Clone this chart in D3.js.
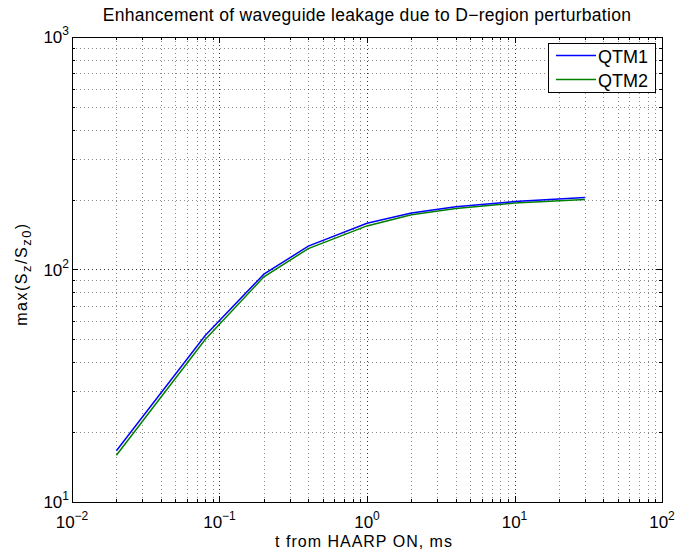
<!DOCTYPE html>
<html>
<head>
<meta charset="utf-8">
<script src="https://cdn.jsdelivr.net/npm/d3@7"></script>
<style>
  body { margin: 0; background: #fff; }
  svg { display: block; font-family: "Liberation Sans", Arial, sans-serif; }
</style>
</head>
<body>
<svg id="chart"></svg>
<script>
const tMs = [0.02, 0.08, 0.2, 0.4, 1, 2, 4, 10, 30];
const qtm1 = [16.6, 52, 95.5, 126, 158, 175, 186, 196, 204];
const qtm2 = [15.9, 50, 93, 123, 154, 172, 183, 193, 200];
const seriesNames = ["QTM1", "QTM2"];
const seriesColors = ["#0000ff", "#008000"];
const xDecades = [-2, -1, 0, 1, 2];
const yDecades = [1, 2, 3];

const width = 677;
const height = 551;
const m = { left: 72, right: 15, top: 37, bottom: 49 };

const svg = d3.select("#chart")
  .attr("width", width)
  .attr("height", height);

const x = d3.scaleLog().domain([0.01, 100]).range([m.left, width - m.right]);
const y = d3.scaleLog().domain([10, 1000]).range([height - m.bottom, m.top]);

const x0 = x.range()[0], x1 = x.range()[1];
const y0 = y.range()[0], y1 = y.range()[1];

// major and minor tick values
function minorVals(decs) {
  const out = [];
  for (let i = 0; i < decs.length - 1; i++) {
    for (let k = 2; k <= 9; k++) out.push(k * Math.pow(10, decs[i]));
  }
  return out;
}
const xMajor = xDecades.map(d => Math.pow(10, d));
const yMajor = yDecades.map(d => Math.pow(10, d));
const xMinor = minorVals(xDecades);
const yMinor = minorVals(yDecades);

// grid (dotted, matlab style)
const grid = svg.append("g");
grid.selectAll(".gxm").data(xMinor).enter().append("line")
  .attr("x1", d => Math.round(x(d)) + 0.5).attr("x2", d => Math.round(x(d)) + 0.5)
  .attr("y1", y1).attr("y2", y0)
  .attr("stroke", "#000").attr("stroke-opacity", 0.45)
  .attr("stroke-dasharray", "1,3");
grid.selectAll(".gym").data(yMinor).enter().append("line")
  .attr("y1", d => Math.round(y(d)) + 0.5).attr("y2", d => Math.round(y(d)) + 0.5)
  .attr("x1", x0).attr("x2", x1)
  .attr("stroke", "#000").attr("stroke-opacity", 0.45)
  .attr("stroke-dasharray", "1,3");
grid.selectAll(".gxM").data(xMajor.slice(1, -1)).enter().append("line")
  .attr("x1", d => Math.round(x(d)) + 0.5).attr("x2", d => Math.round(x(d)) + 0.5)
  .attr("y1", y1).attr("y2", y0)
  .attr("stroke", "#000").attr("stroke-opacity", 0.8)
  .attr("stroke-dasharray", "1,3");
grid.selectAll(".gyM").data(yMajor.slice(1, -1)).enter().append("line")
  .attr("y1", d => Math.round(y(d)) + 0.5).attr("y2", d => Math.round(y(d)) + 0.5)
  .attr("x1", x0).attr("x2", x1)
  .attr("stroke", "#000").attr("stroke-opacity", 0.8)
  .attr("stroke-dasharray", "1,3");

// ticks inward on all four sides
const ticks = svg.append("g").attr("stroke", "#000").attr("stroke-width", 1);
function xTicks(vals, len) {
  vals.forEach(v => {
    const px = Math.round(x(v)) + 0.5;
    ticks.append("line").attr("x1", px).attr("x2", px).attr("y1", y0).attr("y2", y0 - len);
    ticks.append("line").attr("x1", px).attr("x2", px).attr("y1", y1).attr("y2", y1 + len);
  });
}
function yTicks(vals, len) {
  vals.forEach(v => {
    const py = Math.round(y(v)) + 0.5;
    ticks.append("line").attr("y1", py).attr("y2", py).attr("x1", x0).attr("x2", x0 + len);
    ticks.append("line").attr("y1", py).attr("y2", py).attr("x1", x1).attr("x2", x1 - len);
  });
}
xTicks(xMajor, 6); xTicks(xMinor, 3);
yTicks(yMajor, 6); yTicks(yMinor, 3);

// box
svg.append("rect")
  .attr("x", x0 + 0.5).attr("y", y1 + 0.5)
  .attr("width", x1 - x0).attr("height", y0 - y1)
  .attr("fill", "none").attr("stroke", "#000").attr("stroke-width", 1);

// tick labels 10^n
const xl = svg.append("g").attr("font-size", 17).attr("fill", "#000");
xDecades.forEach(d => {
  const t = xl.append("text")
    .attr("x", x(Math.pow(10, d)))
    .attr("y", y0 + 26)
    .attr("text-anchor", "middle");
  t.append("tspan").text("10");
  t.append("tspan").attr("dy", -8).attr("font-size", 12).text(d < 0 ? "\u2212" + (-d) : d);
});
const yl = svg.append("g").attr("font-size", 17).attr("fill", "#000");
yDecades.forEach(d => {
  const t = yl.append("text")
    .attr("x", x0 - 3)
    .attr("y", y(Math.pow(10, d)) + 6)
    .attr("text-anchor", "end");
  t.append("tspan").text("10");
  t.append("tspan").attr("dy", -8).attr("font-size", 12).text(d);
});

// curves
const line = d3.line()
  .x((d, i) => x(tMs[i]))
  .y(d => y(d));
[qtm2, qtm1].forEach((s, j) => {
  svg.append("path")
    .datum(s)
    .attr("fill", "none")
    .attr("stroke", seriesColors[1 - j])
    .attr("stroke-width", 1.5)
    .attr("d", line);
});

// legend
const lg = svg.append("g").attr("transform", "translate(548,43)");
lg.append("rect").attr("x", 0.5).attr("y", 0.5).attr("width", 107).attr("height", 49)
  .attr("fill", "#fff").attr("stroke", "#000").attr("stroke-width", 1);
seriesNames.forEach((name, i) => {
  const ly = 12.5 + i * 24;
  lg.append("line").attr("x1", 8).attr("x2", 48).attr("y1", ly).attr("y2", ly)
    .attr("stroke", seriesColors[i]).attr("stroke-width", 1.5);
  lg.append("text").attr("x", 50).attr("y", ly + 7).attr("font-size", 18).text(name);
});

// title and axis labels
svg.append("text")
  .attr("x", (x0 + x1) / 2).attr("y", 21)
  .attr("text-anchor", "middle").attr("font-size", 17.5)
  .attr("letter-spacing", 0.3)
  .text("Enhancement of waveguide leakage due to D\u2212region perturbation");

svg.append("text")
  .attr("x", 364).attr("y", height - 4)
  .attr("text-anchor", "middle").attr("font-size", 16)
  .attr("letter-spacing", 1)
  .text("t from HAARP ON, ms");

const ylab = svg.append("text")
  .attr("transform", `translate(27,274) rotate(-90)`)
  .attr("text-anchor", "middle").attr("font-size", 16)
  .attr("letter-spacing", 1.5);
ylab.append("tspan").text("max(S");
ylab.append("tspan").attr("dy", 4).attr("font-size", 13).text("z");
ylab.append("tspan").attr("dy", -4).text("/S");
ylab.append("tspan").attr("dy", 4).attr("font-size", 13).text("z0");
ylab.append("tspan").attr("dy", -4).text(")");
</script>
</body>
</html>
